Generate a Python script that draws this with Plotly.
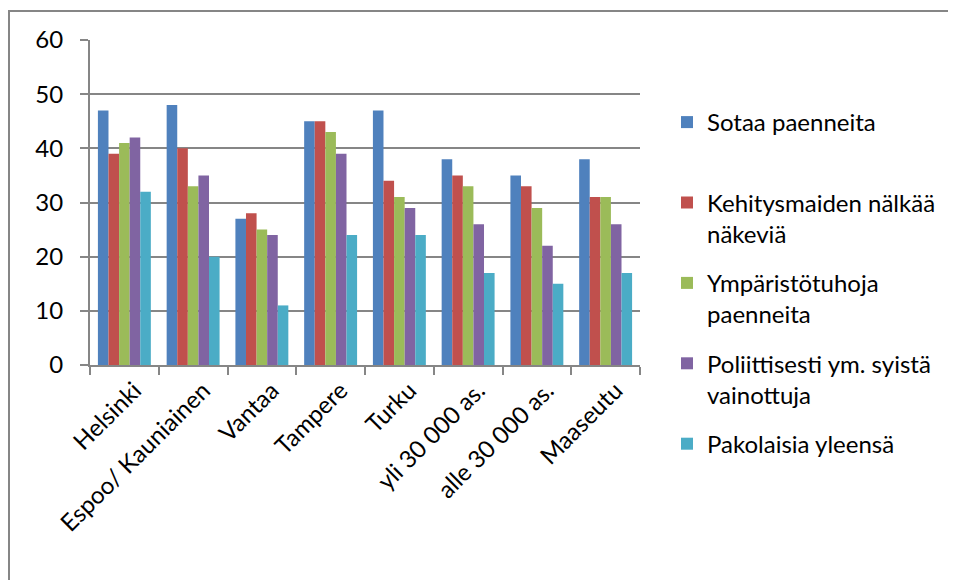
import plotly.graph_objects as go

categories = ["Helsinki", "Espoo/ Kauniainen", "Vantaa", "Tampere", "Turku",
              "yli 30 000 as.", "alle 30 000 as.", "Maaseutu"]
series_names = ["Sotaa paenneita", "Kehitysmaiden nälkää<br>näkeviä",
                "Ympäristötuhoja<br>paenneita", "Poliittisesti ym. syistä<br>vainottuja",
                "Pakolaisia yleensä"]
sotaa = [47, 48, 27, 45, 47, 38, 35, 38]
kehitys = [39, 40, 28, 45, 34, 35, 33, 31]
ymparisto = [41, 33, 25, 43, 31, 33, 29, 31]
poliittinen = [42, 35, 24, 39, 29, 26, 22, 26]
yleensa = [32, 20, 11, 24, 24, 17, 15, 17]
colors = ["#4F81BD", "#C0504D", "#9BBB59", "#8064A2", "#4BACC6"]
y_ticks = [0, 10, 20, 30, 40, 50, 60]

W, H = 956, 580
L, R, T, B = 82, 324, 32, 223
PW, PH = W - L - R, H - T - B
FONT = "Lato"
FS = 24

fig = go.Figure()
for name, vals, col in zip(series_names, [sotaa, kehitys, ymparisto, poliittinen, yleensa], colors):
    label = name if "<br>" in name else name + "<br>\u00a0"
    fig.add_trace(go.Bar(x=categories, y=vals, name=label, marker_color=col,
                         marker_line_width=0, legendgroup=name))

fig.update_layout(
    width=W, height=H,
    margin=dict(l=L, r=R, t=T, b=B, autoexpand=False),
    paper_bgcolor="white", plot_bgcolor="white",
    bargap=0.23, bargroupgap=0,
    font=dict(family=FONT, size=FS, color="#000000"),
    showlegend=True,
    legend=dict(x=(659 - L) / PW, xanchor="left",
                y=1 - (92 - T) / PH, yanchor="top",
                font=dict(family=FONT, size=FS, color="#000000"),
                valign="top", tracegroupgap=15, traceorder="grouped",
                maxheight=520,
                bgcolor="rgba(0,0,0,0)"),
    xaxis=dict(type="category", showline=True, linecolor="#868686", linewidth=2,
               ticks="outside", tickson="boundaries", ticklen=8, tickcolor="#868686",
               tickwidth=2, tickangle=-45, showgrid=False,
               tickfont=dict(family=FONT, size=FS, color="#000000"), ticklabelshift=10),
    yaxis=dict(range=[0, 60], tickvals=y_ticks, showline=True, linecolor="#868686",
               linewidth=2, ticks="outside", ticklen=8, tickcolor="#868686", tickwidth=2,
               showgrid=True, gridcolor="#868686", gridwidth=2, zeroline=False,
               tickfont=dict(family=FONT, size=FS, color="#000000"), ticklabelstandoff=12),
    shapes=[dict(type="rect", xref="paper", yref="paper",
                 x0=(1 - L) / PW, x1=(W + 20 - L) / PW,
                 y0=1 - (H + 20 - T) / PH, y1=1 - (3 - T) / PH,
                 line=dict(color="#868686", width=2), layer="below")],
)

fig.write_html("out.html")
